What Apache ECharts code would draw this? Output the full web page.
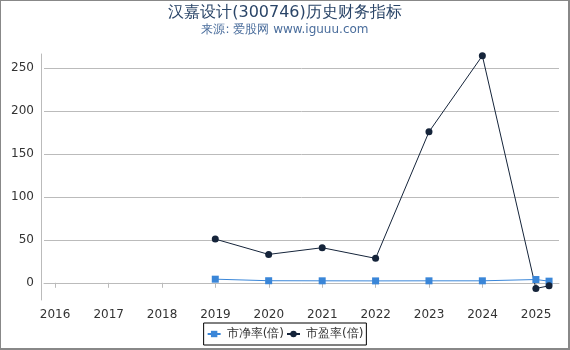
<!DOCTYPE html>
<html><head><meta charset="utf-8">
<script src="https://cdn.jsdelivr.net/npm/echarts@6/dist/echarts.min.js"></script>
<style>
html,body{margin:0;padding:0;background:#fff;}
#wrap{width:570px;height:350px;box-sizing:border-box;border-left:1px solid #888;border-top:1px solid #888;border-right:2px solid #888;border-bottom:2px solid #888;position:relative;}
#c{position:absolute;left:-1px;top:-1px;width:570px;height:350px;}
</style></head>
<body><div id="wrap"><div id="c"></div></div>
<script>
const titleText = '汉嘉设计(300746)历史财务指标';
const subText = '来源: 爱股网 www.iguuu.com';
const dates = ['2018-12-31','2019-12-31','2020-12-31','2021-12-31','2022-12-31','2023-12-31','2024-12-31','2025-03-31'];
const pbValues = [4.2, 2.4, 2.3, 2.2, 2.3, 2.3, 3.8, 1.9];
const peValues = [50.8, 33.0, 40.8, 28.4, 175.5, 264.0, -6.6, -3.5];
const seriesNames = ['市净率(倍)', '市盈率(倍)'];

const chart = echarts.init(document.getElementById('c'));
chart.setOption({
  animation: false,
  title: {
    text: titleText, subtext: subText, left: 'center', top: 0,
    itemGap: 3,
    textStyle: {fontSize: 16, fontWeight: 'normal', color: '#2a4568', fontFamily: 'DejaVu Sans'},
    subtextStyle: {fontSize: 12, color: '#4a6d9c', fontFamily: 'DejaVu Sans'}
  },
  legend: {
    bottom: 5, left: 'center',
    data: seriesNames,
    borderColor: '#000', borderWidth: 1, borderRadius: 0, padding: [5, 3],
    itemGap: 2, itemWidth: 13, itemHeight: 8,
    textStyle: {fontSize: 12, color: '#333', fontFamily: 'DejaVu Sans', padding: [0, 0, 0, 1]}
  },
  grid: {left: 44, right: 11, top: 54, bottom: 50},
  xAxis: {
    type: 'time',
    min: new Date('2015-10-17').getTime(),
    max: new Date('2025-06-07').getTime(),
    splitNumber: 10,
    offset: 4,
    axisLine: {lineStyle: {color: '#bbb'}},
    axisTick: {show: true, lineStyle: {color: '#bbb'}},
    splitLine: {show: false},
    axisLabel: {formatter: '{yyyy}', color: '#333', fontSize: 12, fontFamily: 'DejaVu Sans', hideOverlap: false, margin: 5}
  },
  yAxis: {
    type: 'value', min: -20, max: 266, splitNumber: 5,
    offset: 3,
    axisLine: {show: true, lineStyle: {color: '#bbb'}},
    axisTick: {show: false},
    splitLine: {lineStyle: {color: '#bbb'}, showMinLine: false, showMaxLine: false},
    axisLabel: {color: '#333', fontSize: 12, fontFamily: 'DejaVu Sans', margin: 7,
      showMinLabel: false, showMaxLabel: false}
  },
  series: [
    {
      name: seriesNames[0], type: 'line',
      data: dates.map((d, i) => [d, pbValues[i]]),
      symbol: 'rect', symbolSize: 7,
      itemStyle: {color: '#3a86d8'},
      lineStyle: {color: '#3a86d8', width: 1}
    },
    {
      name: seriesNames[1], type: 'line',
      data: dates.map((d, i) => [d, peValues[i]]),
      symbol: 'circle', symbolSize: 7,
      itemStyle: {color: '#15243a'},
      lineStyle: {color: '#15243a', width: 1}
    }
  ]
});
</script></body></html>
